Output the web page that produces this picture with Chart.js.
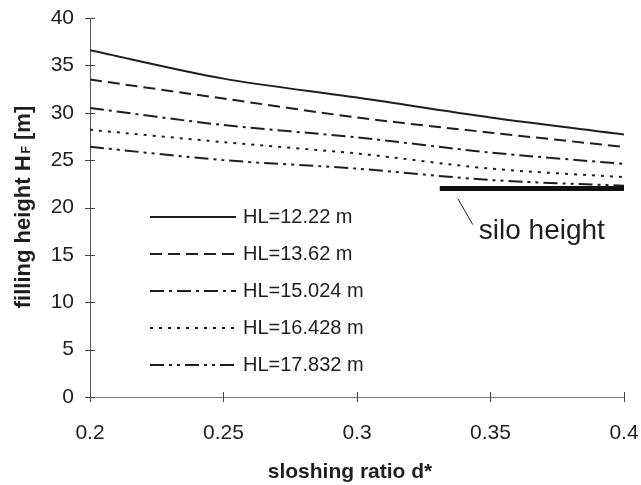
<!DOCTYPE html>
<html lang="en">
<head>
    <meta charset="UTF-8">
    <title>Filling height vs sloshing ratio</title>
    <style>
        html, body { margin: 0; padding: 0; background: #fff; }
        #wrap { width: 641px; height: 485px; }
    </style>
</head>
<body>
    <div id="wrap"><canvas id="myChart" width="641" height="485"></canvas></div>

    <script src="https://cdn.jsdelivr.net/npm/chart.js"></script>
    <script>
        // data
        var ratios = [0.2, 0.25, 0.3, 0.35, 0.4];
        var hl1222 = [36.6, 33.6, 31.6, 29.5, 27.7];
        var hl1362 = [33.5, 31.5, 29.5, 27.9, 26.4];
        var hl15024 = [30.5, 28.7, 27.4, 25.8, 24.6];
        var hl16428 = [28.2, 26.9, 25.7, 24.1, 23.2];
        var hl17832 = [26.4, 25.0, 24.1, 22.9, 22.3];
        var siloX = [0.331, 0.4];
        var siloY = [22.0, 22.0];
        var seriesLabels = ['HL=12.22 m', 'HL=13.62 m', 'HL=15.024 m', 'HL=16.428 m', 'HL=17.832 m'];
        var yTicks = [0, 5, 10, 15, 20, 25, 30, 35, 40];
        var xTicks = [0.2, 0.25, 0.3, 0.35, 0.4];

        var ink = '#1e1e1e';
        var dashes = [[], [12, 6], [14, 5, 3, 5], [3, 6], [14, 5, 3, 5, 3, 5]];
        var allSeries = [hl1222, hl1362, hl15024, hl16428, hl17832];

        function toPoints(xs, ys) {
            var pts = [];
            for (var i = 0; i < xs.length; i++) pts.push({x: xs[i], y: ys[i]});
            return pts;
        }

        var datasets = [];
        for (var i = 0; i < allSeries.length; i++) {
            datasets.push({
                label: seriesLabels[i],
                data: toPoints(ratios, allSeries[i]),
                borderColor: ink,
                borderWidth: 2,
                borderDash: dashes[i],
                pointRadius: 0,
                tension: 0.3,
                fill: false
            });
        }
        datasets.push({
            label: 'silo height',
            data: toPoints(siloX, siloY),
            borderColor: '#111',
            borderWidth: 5,
            pointRadius: 0,
            fill: false
        });

        // legend inside the plot, axis titles, tick crosses, silo note
        var extras = {
            id: 'extras',
            afterDraw: function(chart) {
                var ctx = chart.ctx;
                var area = chart.chartArea;
                var xs = chart.scales.x, ys = chart.scales.y;
                ctx.save();

                // tick crosses
                ctx.strokeStyle = '#444';
                ctx.lineWidth = 1;
                ctx.setLineDash([]);
                yTicks.forEach(function(v) {
                    var py = Math.round(ys.getPixelForValue(v)) + 0.5;
                    ctx.beginPath();
                    ctx.moveTo(area.left - 5, py);
                    ctx.lineTo(area.left + 5, py);
                    ctx.stroke();
                });
                xTicks.forEach(function(v) {
                    var px = Math.round(xs.getPixelForValue(v)) + 0.5;
                    ctx.beginPath();
                    ctx.moveTo(px, area.bottom - 5);
                    ctx.lineTo(px, area.bottom + 5);
                    ctx.stroke();
                });

                // legend
                ctx.fillStyle = ink;
                ctx.font = '20px "Liberation Sans", Arial, sans-serif';
                ctx.textBaseline = 'middle';
                ctx.textAlign = 'left';
                for (var i = 0; i < seriesLabels.length; i++) {
                    var ly = area.top + 199 + i * 37;
                    ctx.strokeStyle = ink;
                    ctx.lineWidth = 2;
                    ctx.setLineDash(dashes[i]);
                    ctx.beginPath();
                    ctx.moveTo(area.left + 60, ly);
                    ctx.lineTo(area.left + 146, ly);
                    ctx.stroke();
                    ctx.fillText(seriesLabels[i], area.left + 153, ly);
                }

                // silo height note
                ctx.setLineDash([]);
                ctx.lineWidth = 1;
                var sx = xs.getPixelForValue(siloX[0]) + 18;
                var sy = ys.getPixelForValue(siloY[0]);
                ctx.beginPath();
                ctx.moveTo(sx, sy + 10);
                ctx.lineTo(sx + 15, sy + 36);
                ctx.stroke();
                ctx.font = '28px "Liberation Sans", Arial, sans-serif';
                ctx.textBaseline = 'alphabetic';
                ctx.fillText('silo height', sx + 21, sy + 50);

                // x title
                ctx.font = 'bold 21px "Liberation Sans", Arial, sans-serif';
                ctx.textAlign = 'center';
                ctx.textBaseline = 'middle';
                ctx.fillText('sloshing ratio d*', 350, 472);

                // y title with subscript F
                ctx.translate(22, 207);
                ctx.rotate(-Math.PI / 2);
                var big = 'bold 22px "Liberation Sans", Arial, sans-serif';
                var small = 'bold 12px "Liberation Sans", Arial, sans-serif';
                ctx.font = big;
                var p1 = 'filling height H', p3 = ' [m]';
                var w1 = ctx.measureText(p1).width, w3 = ctx.measureText(p3).width;
                ctx.font = small;
                var w2 = ctx.measureText('F').width + 2;
                var x0 = -(w1 + w2 + w3) / 2;
                ctx.textAlign = 'left';
                ctx.textBaseline = 'alphabetic';
                ctx.font = big;
                ctx.fillText(p1, x0, 8);
                ctx.font = small;
                ctx.fillText('F', x0 + w1 + 2, 8);
                ctx.font = big;
                ctx.fillText(p3, x0 + w1 + w2, 8);

                ctx.restore();
            }
        };

        function noPad(scale) {
            scale.paddingLeft = 0;
            scale.paddingRight = 0;
            scale.paddingTop = 0;
            scale.paddingBottom = 0;
        }

        var ctx = document.getElementById('myChart').getContext('2d');
        var myChart = new Chart(ctx, {
            type: 'line',
            data: { datasets: datasets },
            options: {
                responsive: false,
                animation: false,
                layout: { padding: { top: 18, right: 17, left: 0, bottom: 0 } },
                plugins: { legend: { display: false }, tooltip: { enabled: false } },
                scales: {
                    x: {
                        type: 'linear',
                        min: 0.2,
                        max: 0.4,
                        afterFit: function(scale) { scale.height = 88; noPad(scale); },
                        afterBuildTicks: function(scale) {
                            scale.ticks = xTicks.map(function(v) { return {value: v}; });
                        },
                        ticks: {
                            color: ink,
                            padding: 24,
                            maxRotation: 0,
                            font: { size: 21, family: '"Liberation Sans", Arial, sans-serif' },
                            callback: function(v) { return String(v); }
                        },
                        grid: { display: false, drawTicks: false },
                        border: { display: true, color: '#777', width: 1, dash: [2, 3] }
                    },
                    y: {
                        min: 0,
                        max: 40,
                        afterFit: function(scale) { scale.width = 90; noPad(scale); },
                        afterBuildTicks: function(scale) {
                            scale.ticks = yTicks.map(function(v) { return {value: v}; });
                        },
                        ticks: {
                            color: ink,
                            padding: 16,
                            font: { size: 21, family: '"Liberation Sans", Arial, sans-serif' }
                        },
                        grid: { display: false, drawTicks: false },
                        border: { display: true, color: '#555', width: 1, dash: [7, 2] }
                    }
                }
            },
            plugins: [extras]
        });
    </script>
</body>
</html>
